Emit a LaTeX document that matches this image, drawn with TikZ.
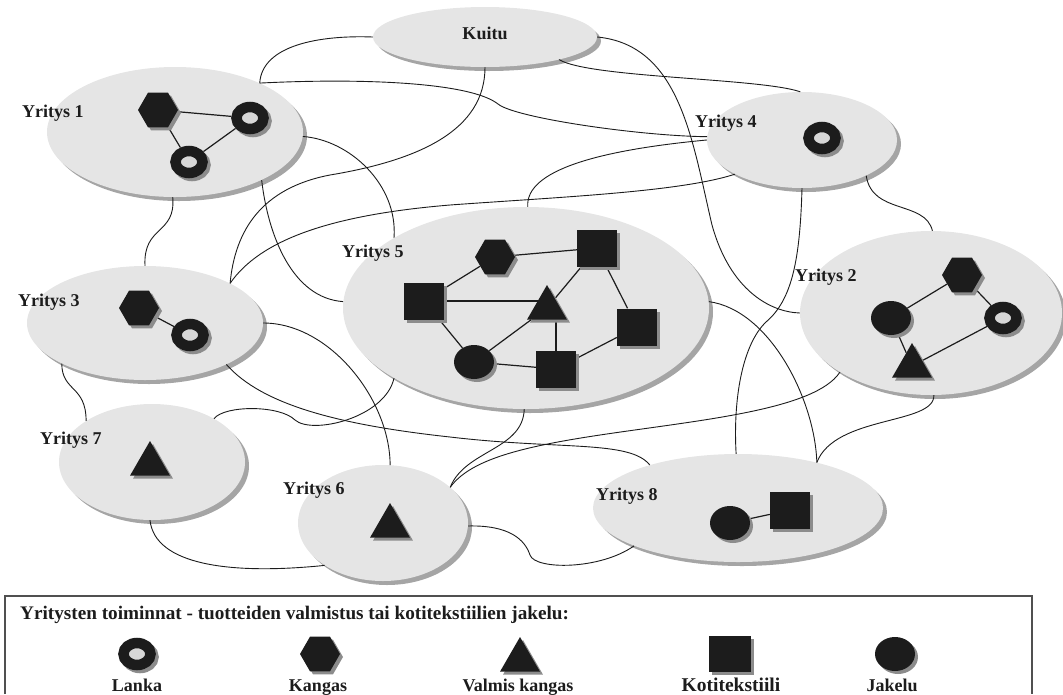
\documentclass[tikz,border=0pt]{standalone}
\usepackage{fontspec}
\setmainfont{Liberation Serif}
\usetikzlibrary{shapes.geometric}

\definecolor{ellfill}{RGB}{229,229,229}
\definecolor{ellshade}{RGB}{165,165,165}
\definecolor{ink}{RGB}{28,28,28}
\definecolor{inkshade}{RGB}{140,140,140}
\definecolor{holefill}{RGB}{215,215,215}
\definecolor{framec}{RGB}{80,80,80}

\pgfdeclarelayer{ellipses}
\pgfdeclarelayer{links}
\pgfsetlayers{ellipses,links,main}

\tikzset{
  company/.style={ellipse, fill=ellfill, inner sep=0pt,
    preaction={fill=ellshade, transform canvas={shift={(4pt,-4pt)}}}},
  shade3/.style={preaction={fill=inkshade, transform canvas={shift={(3pt,-3pt)}}}},
  hexa/.style={regular polygon, regular polygon sides=6, minimum size=40pt,
    inner sep=0pt, fill=ink, shade3},
  ring/.style={ellipse, minimum width=27pt, minimum height=22pt, inner sep=0pt,
    draw=ink, line width=10.5pt, fill=holefill,
    preaction={draw=inkshade, line width=10.5pt, transform canvas={shift={(3pt,-3pt)}}}},
  sq/.style={rectangle, minimum width=40pt, minimum height=37pt, inner sep=0pt,
    fill=ink, shade3},
  tri/.style={regular polygon, regular polygon sides=3, minimum size=46pt,
    inner sep=0pt, fill=ink, shade3},
  dot/.style={ellipse, minimum width=40pt, minimum height=34pt, inner sep=0pt,
    fill=ink, shade3},
  link/.style={draw=ink, line width=0.9pt},
  inlink/.style={draw=ink, line width=1.2pt},
  lab/.style={font=\bfseries\fontsize{18}{20}\selectfont, inner sep=0pt, anchor=west, text=ink},
  legtext/.style={font=\bfseries\fontsize{18}{20}\selectfont, inner sep=0pt, text=ink},
  legname/.style={legtext, anchor=base},
}

\begin{document}
\begin{tikzpicture}[x=1pt,y=-1pt]
\useasboundingbox (0,0) rectangle (1063,694);

% company ellipses
\begin{pgfonlayer}{ellipses}
\node[company, minimum width=224pt, minimum height=60pt]  (kuitu) at (485,37) {};
\node[company, minimum width=256pt, minimum height=130pt] (y1) at (175,132) {};
\node[company, minimum width=190pt, minimum height=96pt]  (y4) at (802,140) {};
\node[company, minimum width=262pt, minimum height=164pt] (y2) at (931,313) {};
\node[company, minimum width=366pt, minimum height=202pt] (y5) at (526,308) {};
\node[company, minimum width=236pt, minimum height=114pt] (y3) at (145,323) {};
\node[company, minimum width=186pt, minimum height=116pt] (y7) at (152,462) {};
\node[company, minimum width=170pt, minimum height=116pt] (y6) at (383,523) {};
\node[company, minimum width=290pt, minimum height=108pt] (y8) at (738,508) {};
\end{pgfonlayer}

% labels
\node[legtext] (kuitulab) at (485,33) {Kuitu};
\node[lab] (n1) at (22,113) {Yritys 1};
\node[lab] (n4) at (695,123) {Yritys 4};
\node[lab] (n2) at (795,277) {Yritys 2};
\node[lab] (n3) at (18,302) {Yritys 3};
\node[lab] (n5) at (342,253) {Yritys 5};
\node[lab] (n7) at (40,440) {Yritys 7};
\node[lab] (n6) at (283,490) {Yritys 6};
\node[lab] (n8) at (596,496) {Yritys 8};

% activities inside the companies
\node[hexa] (a1h) at (158,110) {};
\node[ring] (a1r) at (250,118) {};
\node[ring] (a1s) at (189,162) {};

\node[ring] (a4r) at (822,138) {};

\node[hexa] (a3h) at (139,308) {};
\node[ring] (a3r) at (190,335) {};

\node[hexa] (a5h) at (495,257) {};
\node[sq]   (a5q1) at (597,248) {};
\node[sq]   (a5q2) at (424,301) {};
\node[tri]  (a5t) at (547,308) {};
\node[sq]   (a5q3) at (637,327) {};
\node[dot]  (a5d) at (474,362) {};
\node[sq]   (a5q4) at (556,369) {};

\node[hexa] (a2h) at (962,275) {};
\node[dot]  (a2d) at (891,318) {};
\node[ring] (a2r) at (1003,318) {};
\node[tri]  (a2t) at (912,366) {};

\node[tri]  (a7t) at (150,464) {};
\node[tri]  (a6t) at (390,526) {};

\node[dot]  (a8d) at (730,523) {};
\node[sq]   (a8q) at (790,510) {};

\begin{pgfonlayer}{links}
% links inside the companies
\draw[inlink] (a1h) -- (a1r) -- (a1s) -- (a1h);
\draw[inlink] (a3h) -- (a3r);
\draw[inlink] (a5q2) -- (a5h) -- (a5q1) -- (a5q3) -- (a5q4) -- (a5d) -- (a5q2);
\draw[inlink] (a5q2.center) -- (a5q2.center -| a5t.center);
\draw[inlink] (a5d) -- (a5t) -- (a5q1);
\draw[inlink] (a5q4.center) -- (a5q4.center |- a5t.center);
\draw[inlink] (a2d) -- (a2h) -- (a2r) -- (a2t) -- (a2d);
\draw[inlink] (a8d) -- (a8q);

% links between the companies
\draw[link] (kuitu.180) .. controls (320,35) and (262,45) .. (y1.30);
\draw[link] (y1.30) .. controls (360,78) and (470,82) .. (498,104)
  .. controls (515,118) and (640,136) .. (y4.178);
\draw[link] (kuitu.270) .. controls (485,130) and (420,160) .. (330,175)
  .. controls (262,188) and (235,230) .. (y3.25);
\draw[link] (y3.25) .. controls (260,240) and (330,215) .. (450,205)
  .. controls (560,197) and (680,192) .. (y4.207);
\draw[link] (y1.-2) .. controls (350,140) and (398,185) .. (y5.152);
\draw[link] (y1.-29) .. controls (268,235) and (292,298) .. (y5.178);
\draw[link] (y1.-92) .. controls (176,235) and (143,225) .. (y3.90);
\draw[link] (kuitu.0) .. controls (680,45) and (692,140) .. (712,225)
  .. controls (730,290) and (770,312) .. (y2.180);
\draw[link] (kuitu.-17) .. controls (590,78) and (760,78) .. (y4.92);
\draw[link] (y4.-90) .. controls (800,260) and (792,300) .. (766,322)
  .. controls (742,345) and (733,400) .. (y8.92);
\draw[link] (y4.-29) .. controls (872,215) and (925,200) .. (y2.89);
\draw[link] (y5.89) .. controls (525,170) and (600,150) .. (y4.180);
\draw[link] (y5.2) .. controls (770,310) and (815,400) .. (y8.30);
\draw[link] (y2.-88) .. controls (935,425) and (835,415) .. (y8.30);
\draw[link] (y2.213) .. controls (815,410) and (700,420) .. (600,435)
  .. controls (520,447) and (470,460) .. (y6.28);
\draw[link] (y5.-91) .. controls (523,450) and (465,450) .. (y6.28);
\draw[link] (y3.0) .. controls (330,323) and (390,400) .. (y6.83);
\draw[link] (y3.-27) .. controls (262,405) and (340,425) .. (450,437)
  .. controls (560,450) and (630,440) .. (y8.154);
\draw[link] (y7.35) .. controls (225,405) and (280,405) .. (295,420)
  .. controls (312,435) and (385,418) .. (y5.208);
\draw[link] (y3.206) .. controls (62,392) and (86,385) .. (y7.148);
\draw[link] (y7.-92) .. controls (155,565) and (230,575) .. (y6.216);
\draw[link] (y6.-2) .. controls (510,525) and (525,540) .. (530,555)
  .. controls (535,570) and (600,570) .. (y8.200);
\end{pgfonlayer}

% legend
\draw[framec, line width=1.5pt] (5,694) -- (5,596) -- (1032,596) -- (1032,694);
\node[lab, font=\bfseries\fontsize{19.2}{21}\selectfont] (legtitle) at (20,615)
  {Yritysten toiminnat - tuotteiden valmistus tai kotitekstiilien jakelu:};
\node[ring] (lr) at (137,654) {};
\node[hexa] (lh) at (320,654) {};
\node[tri]  (lt) at (520,660) {};
\node[sq, minimum width=42pt, minimum height=36pt] (lq) at (730,654) {};
\node[dot]  (ld) at (895,654) {};
\node[legname] (lrl) at (137,691) {Lanka};
\node[legname] (lhl) at (318,691) {Kangas};
\node[legname] (ltl) at (518,691) {Valmis kangas};
\node[legname, font=\bfseries\fontsize{19.5}{21}\selectfont] (lql) at (731,691) {Kotitekstiili};
\node[legname] (ldl) at (892,691) {Jakelu};
\end{tikzpicture}
\end{document}
